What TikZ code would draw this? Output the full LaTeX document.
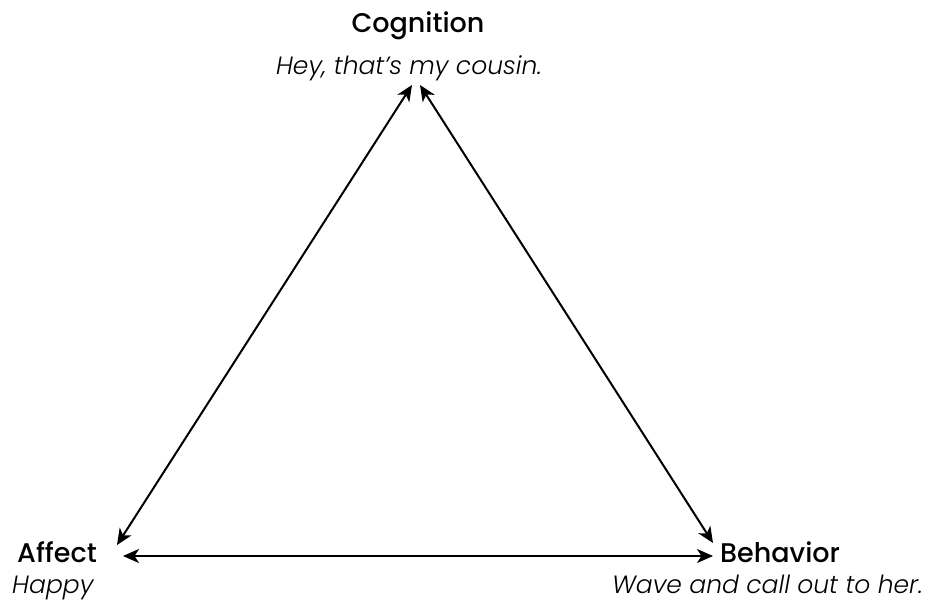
\documentclass[tikz,border=0pt]{standalone}
\usepackage{fontspec}
\setmainfont{Poppins}[BoldFont={Poppins Medium},ItalicFont={Poppins Light Italic}]
\usetikzlibrary{arrows.meta}
\begin{document}
\begin{tikzpicture}[x=1pt,y=-1pt,
  title/.style={inner sep=0pt,font=\fontsize{27}{30}\selectfont\bfseries},
  sub/.style={inner sep=0pt,font=\fontsize{25}{30}\selectfont\itshape},
  conn/.style={line width=2pt,
    {Stealth[length=16pt,width=14pt,inset=4.5pt]}-{Stealth[length=16pt,width=14pt,inset=4.5pt]}}]
\useasboundingbox (0,0) rectangle (942,605);
\node[title,anchor=base] (cog) at (418,32) {Cognition};
\node[sub,anchor=base] (cogs) at (409,74) {Hey, that’s my cousin.};
\node[title,anchor=base west] (aff) at (17,562) {Affect};
\node[sub,anchor=base west] (affs) at (12,593) {Happy};
\node[title,anchor=base west] (beh) at (720,562) {Behavior};
\node[sub,anchor=base east] (behs) at (923,593) {Wave and call out to her.};
\coordinate (cogL) at (412,85);
\coordinate (cogR) at (420,85);
\coordinate (affT) at (117,545);
\coordinate (affR) at (123,556);
\coordinate (behT) at (713,543);
\coordinate (behL) at (713,556);
\draw[conn] (affT) -- (cogL);
\draw[conn] (cogR) -- (behT);
\draw[conn] (affR) -- (behL);
\end{tikzpicture}
\end{document}
